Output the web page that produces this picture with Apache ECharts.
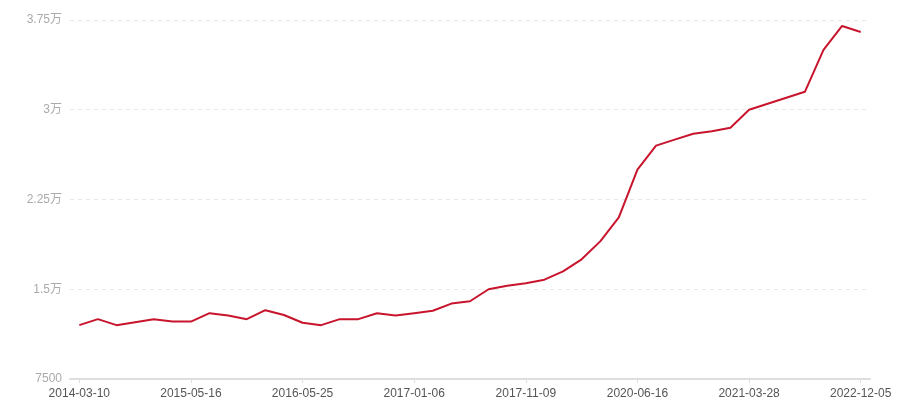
<!DOCTYPE html>
<html>
<head>
<meta charset="utf-8">
<script src="https://cdn.jsdelivr.net/npm/echarts@6/dist/echarts.min.js"></script>
<style>html,body{margin:0;padding:0;background:#fff}#chart{width:900px;height:400px}</style>
</head>
<body>
<div id="chart"></div>
<script>
const categories = [
  '2014-03-10','2014-05-22','2014-08-03','2014-10-15','2014-12-27','2015-03-05','2015-05-16',
  '2015-07-16','2015-09-15','2015-11-15','2016-01-20','2016-03-22','2016-05-25',
  '2016-06-30','2016-08-05','2016-09-10','2016-10-18','2016-11-26','2017-01-06',
  '2017-02-25','2017-04-12','2017-05-30','2017-07-18','2017-09-20','2017-11-09',
  '2018-04-20','2018-10-05','2019-03-22','2019-09-01','2020-01-10','2020-06-16',
  '2020-08-02','2020-09-20','2020-11-08','2020-12-26','2021-02-10','2021-03-28',
  '2021-07-01','2021-10-10','2022-01-15','2022-04-25','2022-08-28','2022-12-05'
];
const values = [
  12000, 12500, 12000, 12250, 12500, 12300, 12300,
  13000, 12800, 12500, 13250, 12850, 12200,
  12000, 12500, 12500, 13000, 12800, 13000,
  13200, 13800, 14000, 15000, 15300, 15500,
  15800, 16500, 17500, 19000, 21000, 25000,
  27000, 27500, 28000, 28200, 28500, 30000,
  30500, 31000, 31500, 35000, 37000, 36500
];
const yMin = 7500, yMax = 37500, yStep = 7500;

const chart = echarts.init(document.getElementById('chart'));
const font = 'Liberation Sans, Noto Sans CJK SC, sans-serif';
chart.setOption({
  animation: false,
  grid: { left: 70, right: 30, top: 20, bottom: 20, containLabel: false },
  xAxis: {
    type: 'category',
    data: categories,
    boundaryGap: true,
    axisLine: { lineStyle: { color: '#dddddd', width: 2 } },
    axisTick: { show: true, alignWithLabel: true, interval: 5, length: 4, lineStyle: { color: '#dddddd' } },
    axisLabel: { interval: 5, color: '#555', fontSize: 12, margin: 9, fontFamily: font }
  },
  yAxis: {
    type: 'value',
    min: yMin, max: yMax, interval: yStep,
    axisLine: { show: false },
    axisTick: { show: false },
    axisLabel: {
      color: '#aaa', fontSize: 12, margin: 8, fontFamily: font,
      formatter: v => v >= 10000 ? (v / 10000) + '万' : String(v)
    },
    splitLine: { show: true, lineStyle: { color: '#e8e8e8', type: [4, 4], width: 1 } }
  },
  series: [{
    type: 'line',
    data: values,
    showSymbol: false,
    symbol: 'none',
    lineStyle: { color: '#c8152d', width: 2 },
    itemStyle: { color: '#c8152d' }
  }]
});
</script>
</body>
</html>
